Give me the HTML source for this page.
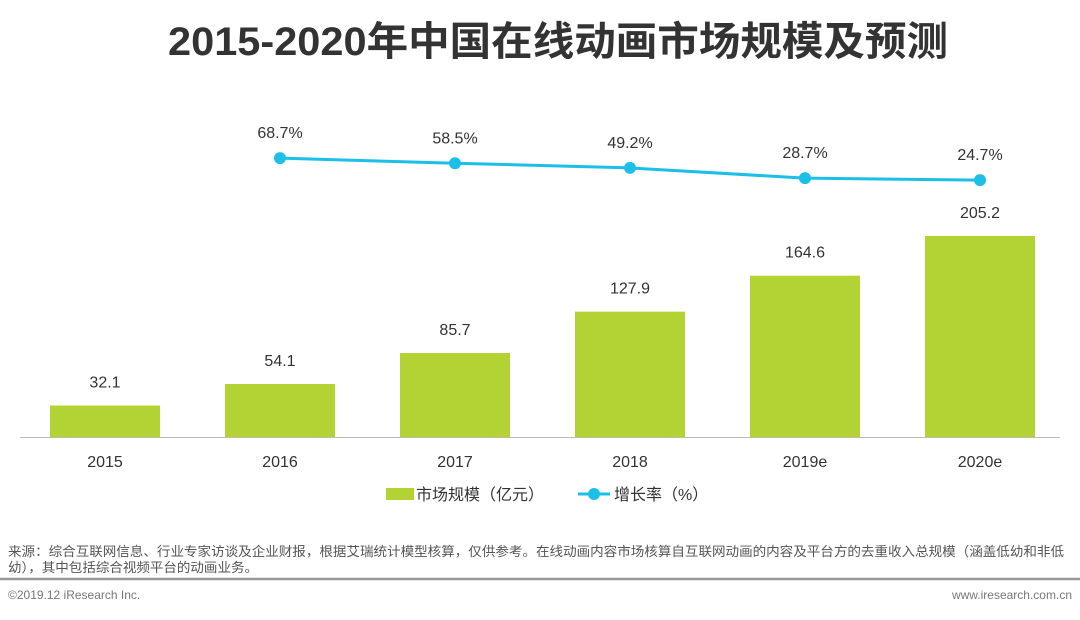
<!DOCTYPE html>
<html><head><meta charset="utf-8"><style>
body{margin:0;width:1080px;height:615px;background:#fff;overflow:hidden;font-family:"Liberation Sans","Noto Sans CJK SC",sans-serif}
</style></head><body>
<svg width="1080" height="615" xmlns="http://www.w3.org/2000/svg" font-family="Liberation Sans, Noto Sans CJK SC, sans-serif">
<text x="168" y="55" textLength="780" lengthAdjust="spacingAndGlyphs" font-size="40" font-weight="bold" fill="#333">2015-2020年中国在线动画市场规模及预测</text>
<line x1="20" y1="437.5" x2="1060" y2="437.5" stroke="#bbb" stroke-width="1"/>
<g id="bars"></g><g id="line"></g>
<g>
<rect x="386" y="488" width="28" height="12" fill="#b3d234"/>
<text x="416" y="500" font-size="16" fill="#333">市场规模（亿元）</text>
<line x1="578" y1="494" x2="610" y2="494" stroke="#1cbfe8" stroke-width="3"/>
<circle cx="594" cy="494" r="6" fill="#1cbfe8"/>
<text x="614" y="500" font-size="16" fill="#333">增长率（%）</text>
</g>
<text x="8" y="556" textLength="1056" lengthAdjust="spacingAndGlyphs" font-size="13" fill="#555">来源：综合互联网信息、行业专家访谈及企业财报，根据艾瑞统计模型核算，仅供参考。在线动画内容市场核算自互联网动画的内容及平台方的去重收入总规模（涵盖低幼和非低</text>
<text x="8" y="572" textLength="250" lengthAdjust="spacingAndGlyphs" font-size="13" fill="#555">幼），其中包括综合视频平台的动画业务。</text>
<line x1="0" y1="579" x2="1080" y2="579" stroke="#999" stroke-width="2.5"/>
<text x="8" y="599" font-size="12" fill="#777">©2019.12 iResearch Inc.</text>
<text x="1072" y="599" font-size="12" fill="#777" text-anchor="end">www.iresearch.com.cn</text>
</svg>
<script>
const categories=["2015","2016","2017","2018","2019e","2020e"];
const marketValues=[32.1,54.1,85.7,127.9,164.6,205.2];
const rateValues=[null,68.7,58.5,49.2,28.7,24.7];
const NS="http://www.w3.org/2000/svg";
const xC=i=>105+175*i;
const yB=v=>437-0.98*v;
const yR=v=>192.5-0.5*v;
function mk(t,a,p){const e=document.createElementNS(NS,t);for(const k in a)e.setAttribute(k,a[k]);p.appendChild(e);return e;}
const bars=document.getElementById('bars'),line=document.getElementById('line');
categories.forEach((c,i)=>{
 const r=mk('rect',{x:xC(i)-55,y:yB(marketValues[i]),width:110,height:437-yB(marketValues[i]),fill:'#b3d234'},bars);
 
 
 const t=mk('text',{x:xC(i),y:yB(marketValues[i])-18,'text-anchor':'middle','font-size':16,fill:'#333'},bars);t.textContent=marketValues[i].toFixed(1);
 
 
 const l=mk('text',{x:xC(i),y:467,'text-anchor':'middle','font-size':16,fill:'#333'},bars);l.textContent=c;
 
 
});
let pts=[];
rateValues.forEach((v,i)=>{if(v!==null)pts.push([xC(i),yR(v),v,categories[i]]);});
const pl=mk('polyline',{points:pts.map(p=>p[0]+','+p[1]).join(' '),fill:'none',stroke:'#1cbfe8','stroke-width':3},line);


pts.forEach(p=>{
 const c=mk('circle',{cx:p[0],cy:p[1],r:6,fill:'#1cbfe8'},line);
 
 
 const t=mk('text',{x:p[0],y:p[1]-20,'text-anchor':'middle','font-size':16,fill:'#333'},line);t.textContent=p[2].toFixed(1)+'%';
 
 
});
</script>
</body></html>
